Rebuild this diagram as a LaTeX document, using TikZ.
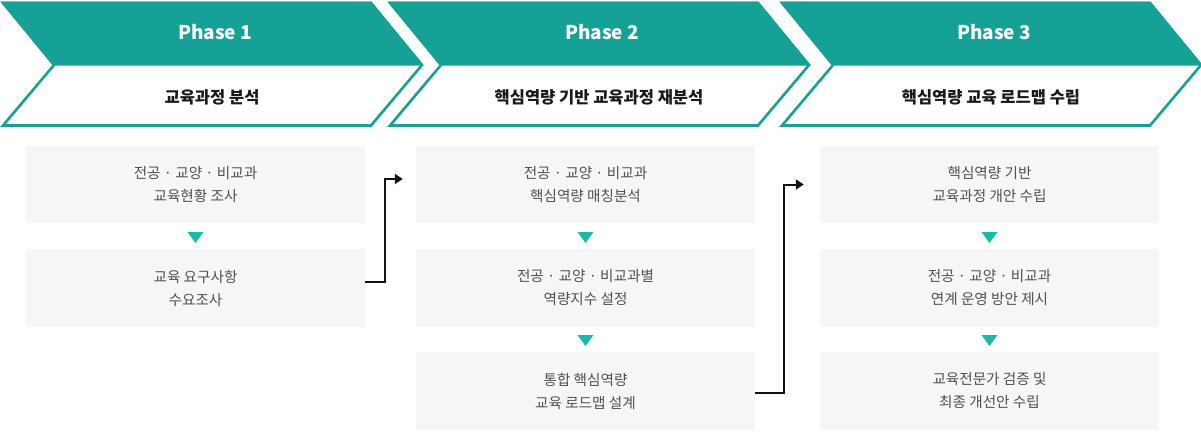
\documentclass[tikz,border=0pt]{standalone}
\usepackage{fontspec}
\setmainfont{Noto Sans CJK KR}
\usetikzlibrary{arrows.meta,calc}
\definecolor{teal1}{HTML}{16A196}
\definecolor{teal2}{HTML}{1ABAA6}
\definecolor{boxbg}{HTML}{F6F6F6}
\definecolor{boxtxt}{HTML}{505050}
\definecolor{hdtxt}{HTML}{1A1A1A}
\begin{document}
\begin{tikzpicture}[x=1pt,y=-1pt,
  phasetxt/.style={text=white,font=\fontsize{19}{22}\selectfont\bfseries,inner sep=0},
  headtxt/.style={text=hdtxt,font=\fontsize{16.5}{19}\selectfont\bfseries,inner sep=0},
  stepbox/.style={fill=boxbg,draw=none,minimum width=339pt,minimum height=77.5pt,inner sep=0,
     text=boxtxt,align=center,font=\fontsize{14.6}{23}\selectfont},
  tri/.style={fill=teal2,draw=none},
  conn/.style={draw=black!93,line width=2pt,-{Triangle[length=8pt,width=10pt]}}
]
\useasboundingbox (0,0) rectangle (1201,431);
\fill[white] (0,0) rectangle (1201,431);
% chevrons
\foreach \xo/\pn/\ttl [count=\i] in {3/1/교육과정 분석, 390/2/핵심역량 기반 교육과정 재분석, 782/3/핵심역량 교육 로드맵 수립}{
  \draw[teal1,line width=2.6pt,fill=white,line join=miter]
    (\xo,3) -- (\xo+368,3) -- (\xo+419,65) -- (\xo+368,125.5) -- (\xo,125.5) -- (\xo+51,65) -- cycle;
  \fill[teal1] (\xo-1,1.7) -- (\xo+368.5,1.7) -- (\xo+420.5,65.5) -- (\xo+51.5,65.5) -- cycle;
  \node[phasetxt] (ph\i) at (\xo+212,32.5) {Phase \pn};
  \node[headtxt] (hd\i) at (\xo+209,97) {\ttl};
}
% boxes
\node[stepbox] (b11) at (195.5,184.5) {전공 · 교양 · 비교과\\교육현황 조사};
\node[stepbox] (b12) at (195.5,288) {교육 요구사항\\수요조사};
\node[stepbox] (b21) at (585.5,184.5) {전공 · 교양 · 비교과\\핵심역량 매칭분석};
\node[stepbox] (b22) at (585.5,288) {전공 · 교양 · 비교과별\\역량지수 설정};
\node[stepbox] (b23) at (585.5,391) {통합 핵심역량\\교육 로드맵 설계};
\node[stepbox] (b31) at (989.5,184.5) {핵심역량 기반\\교육과정 개안 수립};
\node[stepbox] (b32) at (989.5,288) {전공 · 교양 · 비교과\\연계 운영 방안 제시};
\node[stepbox] (b33) at (989.5,391) {교육전문가 검증 및\\최종 개선안 수립};
% triangles
\foreach \cx/\ty in {195.5/232, 585.5/232, 585.5/335, 989.5/232, 989.5/335}{
  \fill[tri] (\cx-8,\ty) -- (\cx+8,\ty) -- (\cx,\ty+11) -- cycle;
}
% connectors
\draw[conn] ([yshift=6pt]b12.east) -- ++(20,0) |- ([xshift=-13pt,yshift=5.5pt]b21.west);
\draw[conn] ([yshift=-2pt]b23.east) -- ++(29,0) |- ([xshift=-16pt]b31.west);
\end{tikzpicture}
\end{document}
